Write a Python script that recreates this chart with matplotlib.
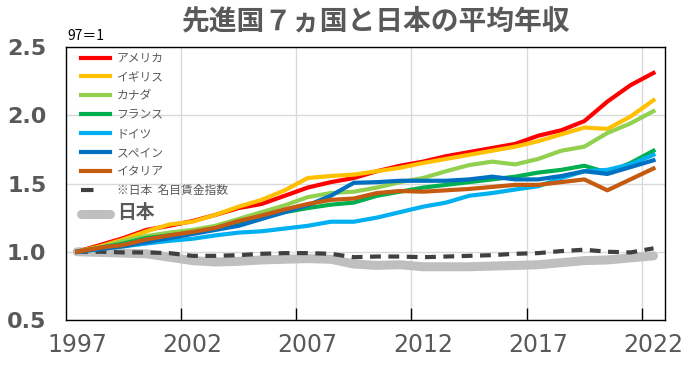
import numpy as np
import matplotlib
matplotlib.use("Agg")
import matplotlib.pyplot as plt
from matplotlib.ticker import FixedLocator
from matplotlib.lines import Line2D

plt.rcParams["font.family"] = ["Noto Sans CJK JP", "DejaVu Sans"]

YEARS = list(range(1997, 2023))

USA = [1.00, 1.05, 1.10, 1.16, 1.19, 1.225, 1.27, 1.32, 1.35, 1.41, 1.47, 1.51, 1.54, 1.59, 1.63,
       1.66, 1.70, 1.73, 1.76, 1.79, 1.85, 1.89, 1.957, 2.10, 2.22, 2.31]
UK = [1.00, 1.04, 1.09, 1.15, 1.20, 1.22, 1.27, 1.33, 1.38, 1.45, 1.54, 1.555, 1.565, 1.59, 1.615,
      1.65, 1.68, 1.71, 1.74, 1.77, 1.81, 1.86, 1.91, 1.90, 1.99, 2.11]
CANADA = [1.00, 1.03, 1.08, 1.115, 1.14, 1.16, 1.19, 1.24, 1.29, 1.34, 1.40, 1.43, 1.44, 1.47, 1.51,
          1.54, 1.59, 1.635, 1.66, 1.64, 1.68, 1.74, 1.77, 1.87, 1.94, 2.03]
FRANCE = [1.00, 1.03, 1.06, 1.10, 1.12, 1.14, 1.17, 1.21, 1.25, 1.29, 1.32, 1.345, 1.36, 1.41, 1.44,
          1.47, 1.49, 1.51, 1.53, 1.55, 1.58, 1.60, 1.63, 1.58, 1.65, 1.74]
GERMANY = [1.00, 1.02, 1.04, 1.06, 1.08, 1.095, 1.12, 1.14, 1.15, 1.17, 1.19, 1.22, 1.22, 1.25, 1.29,
           1.33, 1.36, 1.41, 1.43, 1.456, 1.48, 1.54, 1.59, 1.60, 1.64, 1.71]
SPAIN = [1.00, 1.02, 1.04, 1.07, 1.10, 1.13, 1.16, 1.19, 1.24, 1.29, 1.34, 1.41, 1.505, 1.51, 1.52,
         1.52, 1.52, 1.53, 1.55, 1.53, 1.53, 1.555, 1.59, 1.57, 1.62, 1.67]
ITALY = [1.00, 1.03, 1.05, 1.09, 1.12, 1.145, 1.175, 1.225, 1.265, 1.31, 1.35, 1.38, 1.39, 1.43, 1.445,
         1.44, 1.45, 1.46, 1.475, 1.49, 1.49, 1.51, 1.53, 1.45, 1.53, 1.61]
JAPAN_NOMINAL = [1.00, 1.00, 0.995, 0.995, 0.99, 0.97, 0.97, 0.975, 0.985, 0.99, 0.99, 0.985, 0.96,
                 0.965, 0.965, 0.96, 0.965, 0.97, 0.975, 0.985, 0.99, 1.005, 1.015, 1.0, 0.995, 1.025]
JAPAN = [1.00, 0.995, 0.99, 0.985, 0.96, 0.935, 0.925, 0.93, 0.94, 0.945, 0.95, 0.945, 0.91, 0.90,
         0.905, 0.89, 0.89, 0.89, 0.895, 0.90, 0.905, 0.92, 0.935, 0.94, 0.955, 0.97]

SERIES = [
    ("アメリカ", USA, "#FF0000"),
    ("イギリス", UK, "#FFC000"),
    ("カナダ", CANADA, "#92D050"),
    ("フランス", FRANCE, "#00B050"),
    ("ドイツ", GERMANY, "#00B0F0"),
    ("スペイン", SPAIN, "#0070C0"),
    ("イタリア", ITALY, "#C55A11"),
]

TEXT_GREY = "#595959"

fig = plt.figure(figsize=(6.9, 3.67), dpi=100)
ax = fig.add_axes([65.7 / 690, 47 / 367, (665 - 65.7) / 690, (320 - 47) / 367])

# Japan lines first so the colored lines sit on top
ax.plot(YEARS, JAPAN, color="#BFBFBF", linewidth=6.5, solid_capstyle="round", zorder=3)
ax.plot(YEARS, JAPAN_NOMINAL, color="#404040", linewidth=3, dashes=(2.6, 1.8), zorder=4)
for name, vals, color in SERIES:
    ax.plot(YEARS, vals, color=color, linewidth=3, zorder=5)

ax.set_xlim(1996.5, 2022.5)
ax.set_ylim(0.5, 2.5)

ax.set_xticks(YEARS[::5])
ax.set_xticklabels([str(y) for y in YEARS[::5]])
ax.xaxis.set_minor_locator(FixedLocator([y - 0.5 for y in YEARS[5::5]]))
ax.tick_params(axis="x", which="major", length=0, pad=9, labelsize=17, labelcolor=TEXT_GREY)
ax.tick_params(axis="x", which="minor", direction="in", length=9, width=1, color="black")

ax.set_yticks([0.5, 1.0, 1.5, 2.0, 2.5])
ax.set_yticklabels(["0.5", "1.0", "1.5", "2.0", "2.5"])
ax.tick_params(axis="y", length=0, pad=14, labelsize=16, labelcolor=TEXT_GREY)
for lbl in ax.get_yticklabels():
    lbl.set_fontweight("bold")
    lbl.set_family("DejaVu Sans")
for lbl in ax.get_xticklabels():
    lbl.set_family("DejaVu Sans")

ax.grid(True, axis="y", which="major", color="#D9D9D9", linewidth=1)
ax.grid(True, axis="x", which="minor", color="#D9D9D9", linewidth=1)
ax.set_axisbelow(True)
for spine in ax.spines.values():
    spine.set_color("black")
    spine.set_linewidth(1)

# legend
handles = [Line2D([], [], color=c, linewidth=3) for _, _, c in SERIES]
labels = [n for n, _, _ in SERIES]
handles.append(Line2D([], [], color="#404040", linewidth=3, dashes=(3.0, 8.0)))
labels.append("※日本  名目賃金指数")
handles.append(Line2D([], [], color="#BFBFBF", linewidth=6.5, solid_capstyle="round"))
labels.append("日本")
leg = ax.legend(handles, labels, loc="upper left", frameon=False, fontsize=8.5,
                handlelength=2.4, handletextpad=0.6, labelspacing=0.5,
                borderaxespad=0.0, bbox_to_anchor=(0.018, 1.0))
for t in leg.get_texts():
    t.set_color(TEXT_GREY)
leg.get_texts()[-1].set_fontsize(13.5)
leg.get_texts()[-1].set_fontweight("bold")

fig.text(376 / 690, 1 - 21 / 367, "先進国７ヵ国と日本の平均年収", ha="center", va="center",
         fontsize=20, fontweight="bold", color=TEXT_GREY)
fig.text(67 / 690, 1 - 36 / 367, "97＝1", ha="left", va="center", fontsize=10, color="black")

fig.savefig("out.png", dpi=100)
